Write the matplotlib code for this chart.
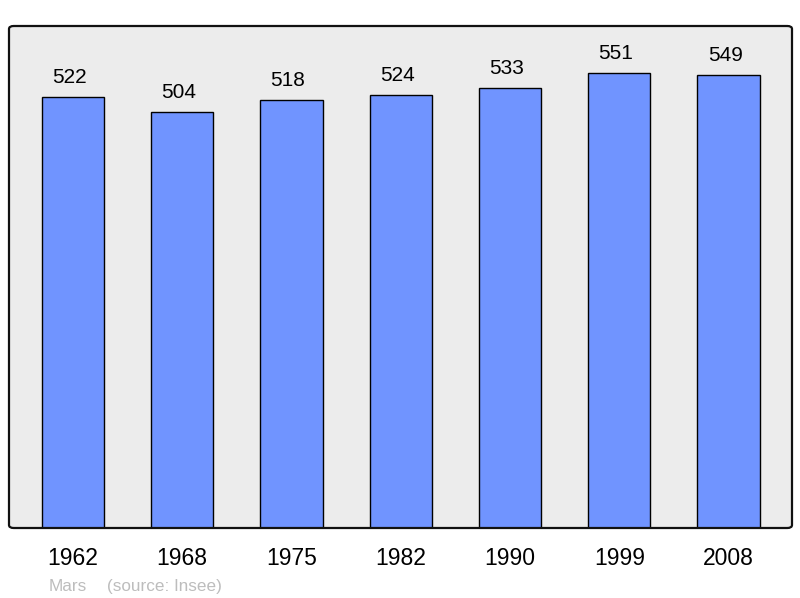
import matplotlib
matplotlib.use('Agg')
import matplotlib.pyplot as plt
from matplotlib.patches import FancyBboxPatch

plt.rcParams['font.family'] = ['Liberation Sans', 'DejaVu Sans']

years = ['1962', '1968', '1975', '1982', '1990', '1999', '2008']
population = [522, 504, 518, 524, 533, 551, 549]

fig = plt.figure(figsize=(8, 5.98), dpi=100)
ax = fig.add_axes([9 / 800, 70 / 598, 783 / 800, 502 / 598])
ax.set_facecolor('#ececec')

x = range(len(years))
bars = ax.bar(x, population, width=0.57, color='#7094ff', edgecolor='black', linewidth=1.0, zorder=2)

for xi, v in zip(x, population):
    ax.annotate(str(v), (xi, v), xytext=(-2.5, 10), textcoords='offset points',
                ha='center', va='baseline', fontsize=15)

ax.set_xlim(-0.585, 6.58)
ax.set_ylim(0, 608)
ax.set_xticks(list(x))
ax.set_xticklabels(years, fontsize=16.5)
ax.tick_params(axis='x', length=0, pad=14)
ax.set_yticks([])
for s in ax.spines.values():
    s.set_visible(False)

# cadre arrondi
frame = FancyBboxPatch((0, 0), 1, 1, boxstyle='round,pad=0,rounding_size=0.006',
                       transform=ax.transAxes, fill=False, edgecolor='#111111',
                       linewidth=1.6, clip_on=False, zorder=5)
ax.add_patch(frame)

fig.text(49 / 800, 1 - 591 / 598, 'Mars', color='#bdbdbd', fontsize=12.3, va='baseline')
fig.text(107 / 800, 1 - 591 / 598, '(source: Insee)', color='#bdbdbd', fontsize=12.3, va='baseline')

fig.savefig('out.png', dpi=100)
